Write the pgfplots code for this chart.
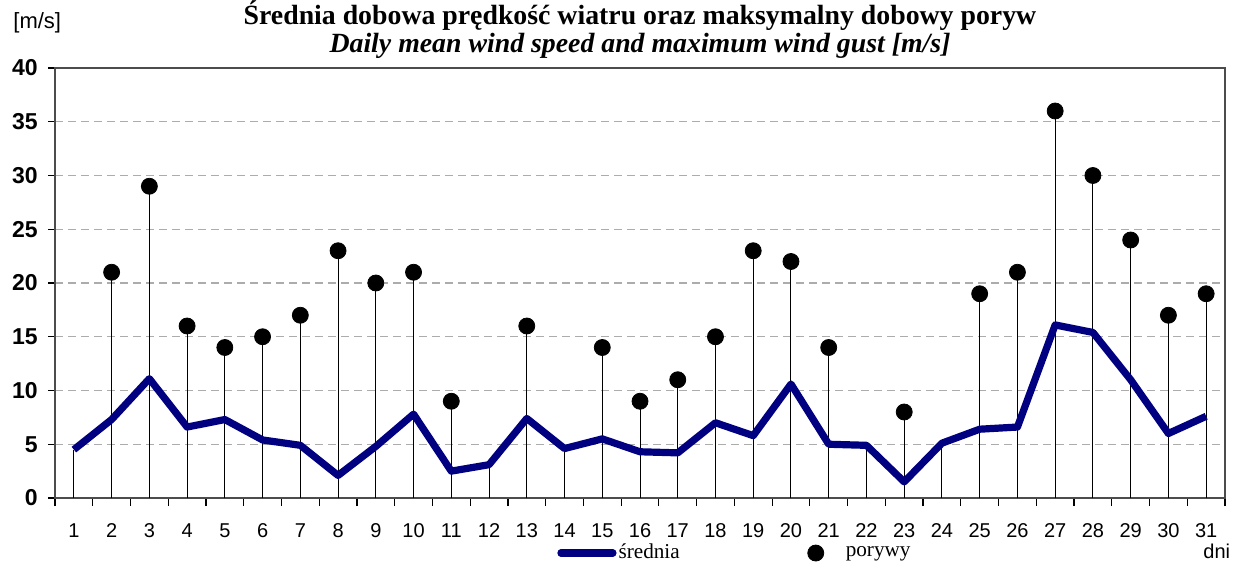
\documentclass[border=0pt]{standalone}
\usepackage{pgfplots}
\pgfplotsset{compat=1.18}
\usepackage{fontspec}
\setmainfont{Liberation Serif}
\newfontfamily\arial{Liberation Sans}
\definecolor{navyline}{RGB}{0,0,128}
\pgfplotstableread{
day mean
1 4.5
2 7.3
3 11.1
4 6.6
5 7.3
6 5.4
7 4.9
8 2.1
9 4.8
10 7.8
11 2.5
12 3.1
13 7.4
14 4.6
15 5.5
16 4.3
17 4.2
18 7.0
19 5.8
20 10.6
21 5.0
22 4.9
23 1.5
24 5.1
25 6.4
26 6.6
27 16.1
28 15.4
29 11.0
30 6.0
31 7.6
}\meantab
\pgfplotstableread{
day gust
2 21
3 29
4 16
5 14
6 15
7 17
8 23
9 20
10 21
11 9
13 16
15 14
16 9
17 11
18 15
19 23
20 22
21 14
23 8
25 19
26 21
27 36
28 30
29 24
30 17
31 19
}\gusttab
\begin{document}
\begin{tikzpicture}
\useasboundingbox (-27.5pt,-34.5pt) rectangle (589.5pt,249pt);
\begin{axis}[
 at={(0,0)}, anchor=south west,
 scale only axis, width=585pt, height=215pt,
 xmin=0.5, xmax=31.5, ymin=0, ymax=40,
 xtick={1,...,31},
 minor xtick={0.5,1.5,...,31.5},
 ytick={0,5,...,40},
 xtick pos=bottom, ytick pos=left,
 tick align=outside,
 major tick length=3.5pt,
 minor tick length=4pt,
 major x tick style={draw=none},
 every tick/.style={black, line width=0.6pt},
 /pgf/number format/assume math mode=true,
 xticklabel style={font=\arial\fontsize{10}{12}\selectfont, inner sep=0pt, yshift=-9pt},
 yticklabel style={font=\arial\bfseries\fontsize{11.5}{13}\selectfont, inner sep=0pt, xshift=-5pt},
 ymajorgrids=true,
 major grid style={dashed, dash pattern=on 4pt off 2.5pt, gray!65, line width=0.6pt},
 axis line style={gray!60!black, line width=1pt},
 legend columns=2,
 legend style={draw=none, fill=none, at={(0.429,-0.128)}, anchor=west,
   font=\fontsize{10.6}{12}\selectfont, inner sep=0pt,
   nodes={inner sep=1pt},
   /tikz/every even column/.append style={column sep=59pt}},
]
\addplot[ycomb, black, line width=0.5pt, forget plot] table[x=day, y=mean] {\meantab};
\addplot[ycomb, black, line width=0.5pt, forget plot] table[x=day, y=gust] {\gusttab};
\addplot[navyline, line width=3.6pt, line join=round,
  legend image code/.code={\draw[navyline, line width=3.6pt, line cap=round] (0pt,0pt) -- (26pt,0pt);}]
  table[x=day, y=mean] {\meantab};
\addlegendentry{średnia}
\addplot[only marks, mark=*, mark size=4pt, black,
  legend image code/.code={\fill[black] (8pt,0pt) circle (4pt); \path[draw=none, fill=none] (0pt,0pt) rectangle (22pt,0.1pt);}]
  table[x=day, y=gust] {\gusttab};
\addlegendentry{porywy}
\end{axis}
\node[anchor=base, font=\bfseries\fontsize{13.9}{15}\selectfont] at (292.5pt,236.8pt) {Średnia dobowa prędkość wiatru oraz maksymalny dobowy poryw};
\node[anchor=base, font=\bfseries\itshape\fontsize{13.9}{15}\selectfont] at (292.5pt,222.5pt) {Daily mean wind speed and maximum wind gust [m/s]};
\node[anchor=base west, inner sep=0pt, font=\arial\fontsize{11}{13}\selectfont] at (-21pt,234.5pt) {[m/s]};
\node[anchor=base west, inner sep=0pt, font=\arial\fontsize{10}{12}\selectfont] at (574pt,-30pt) {dni};
\end{tikzpicture}
\end{document}
